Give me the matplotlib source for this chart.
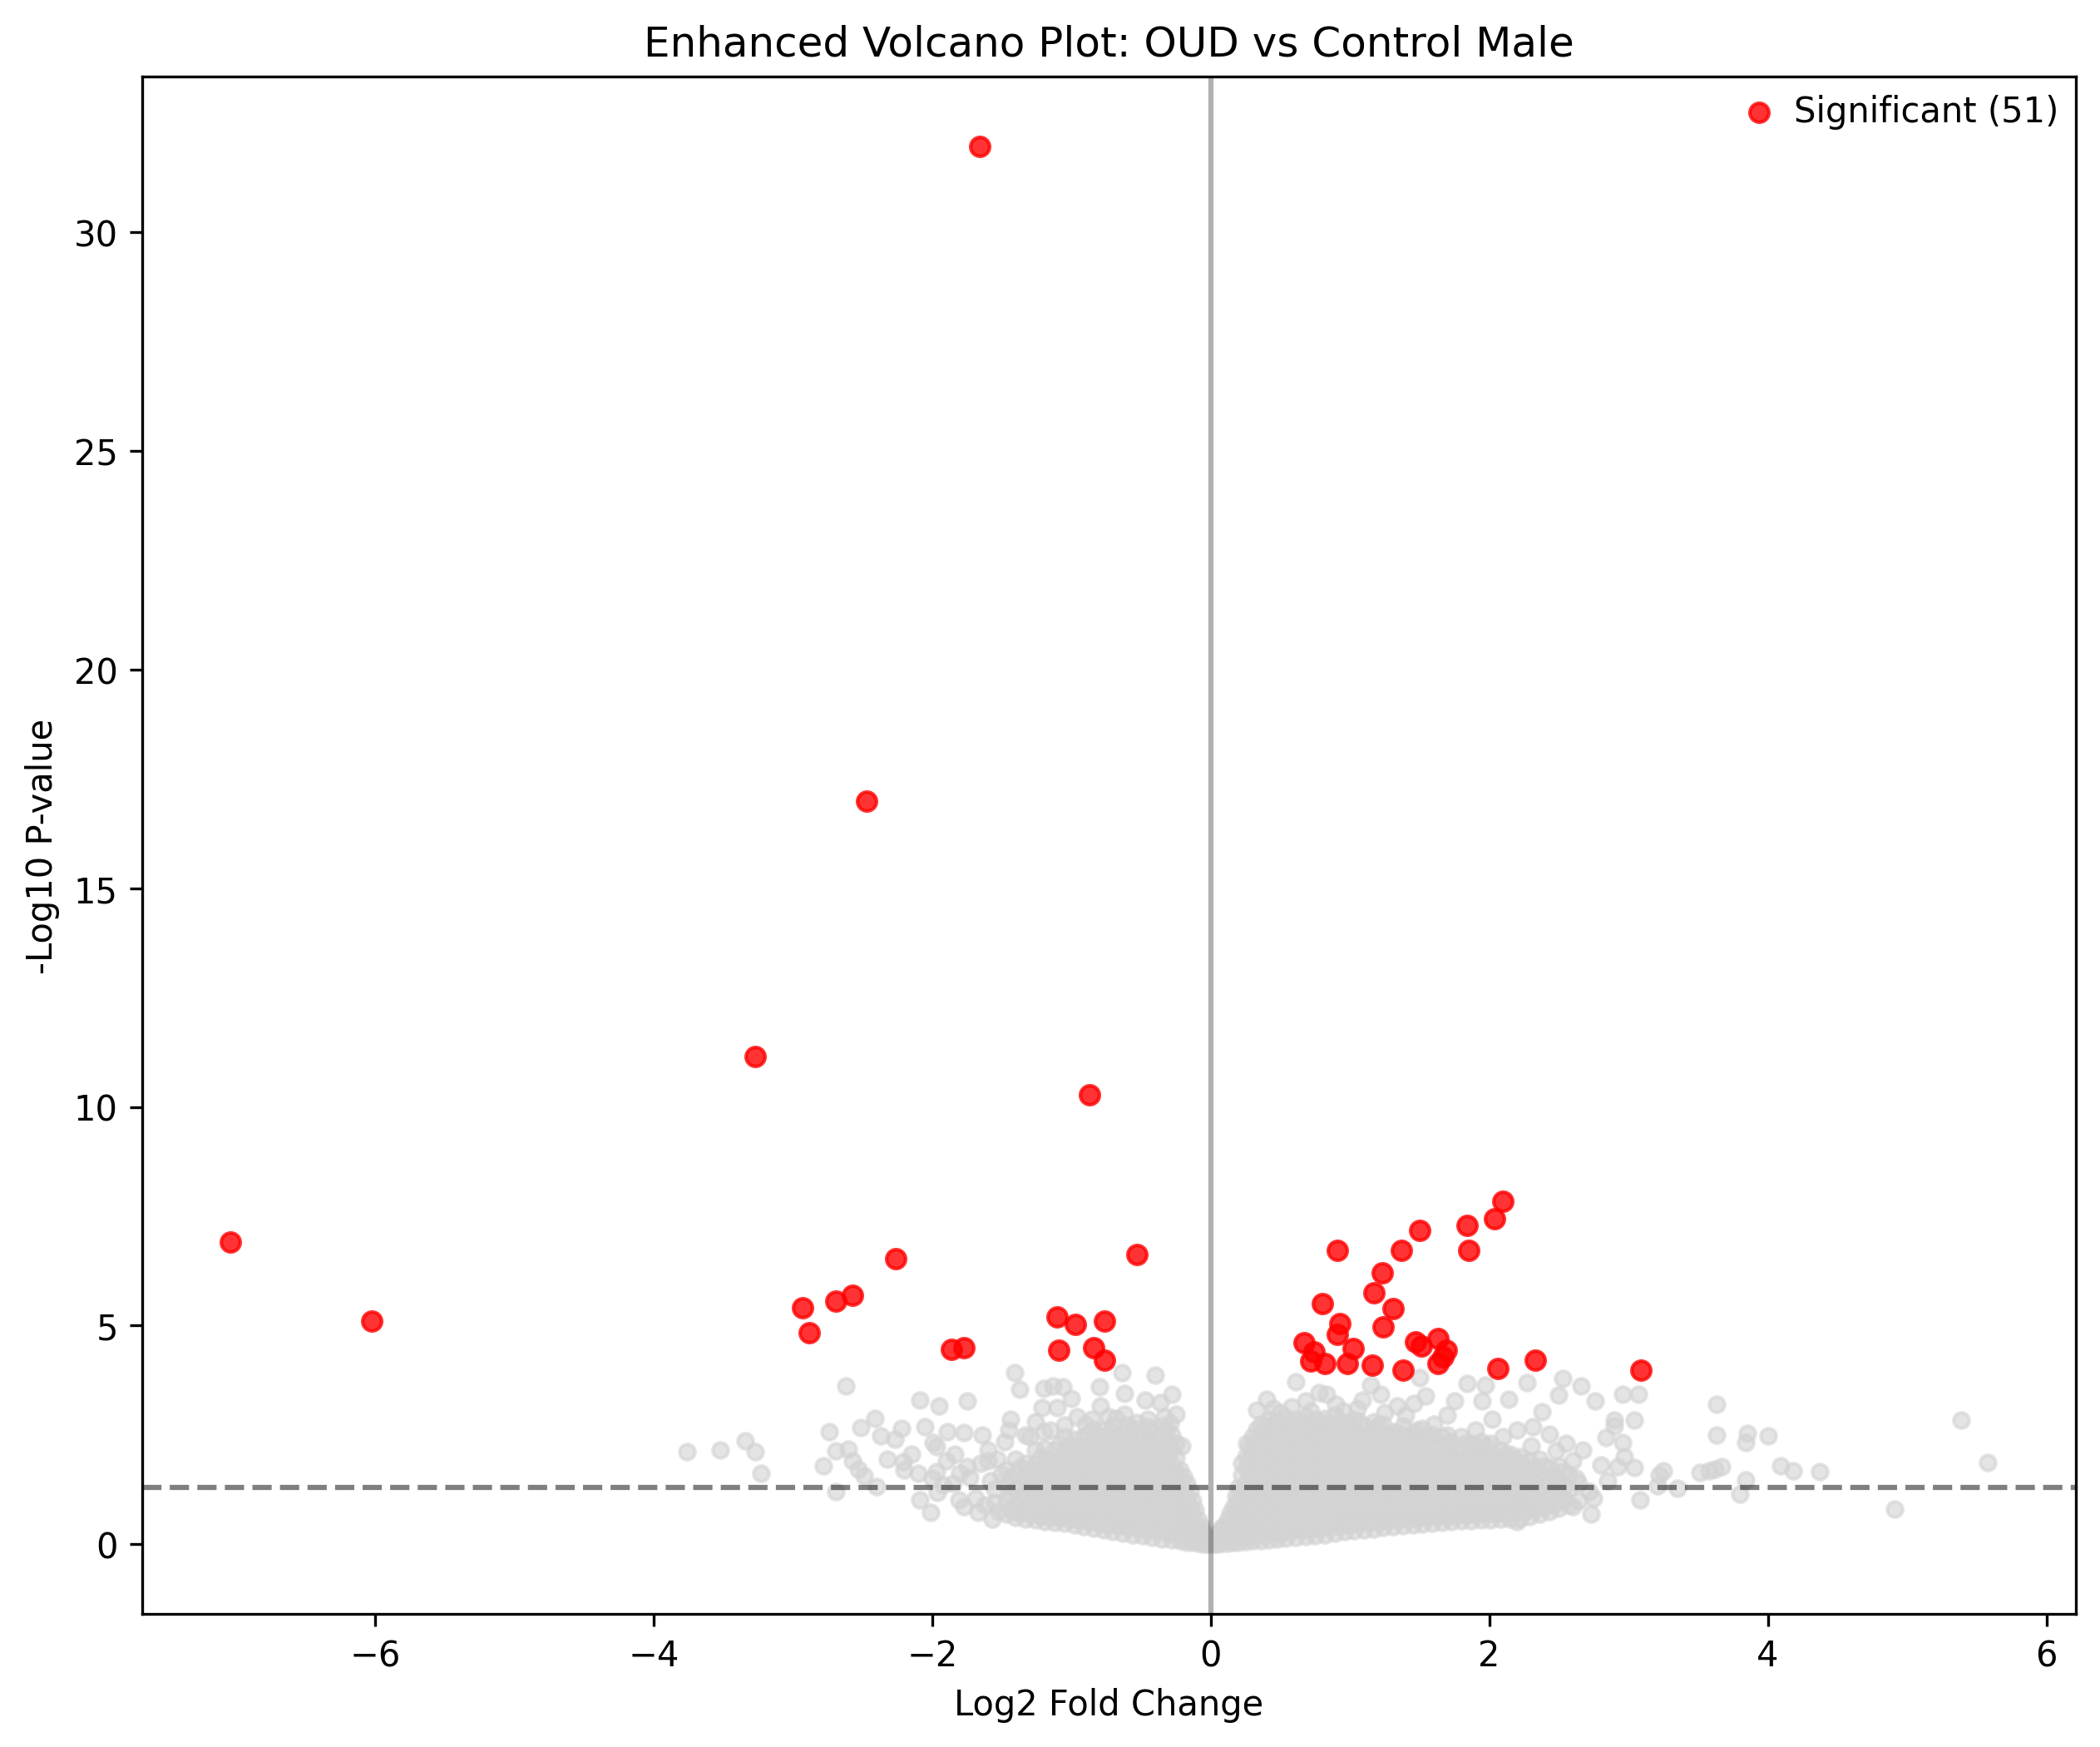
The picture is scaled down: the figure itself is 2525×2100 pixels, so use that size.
import numpy as np
import matplotlib
matplotlib.use('Agg')
import matplotlib.pyplot as plt

# significant genes
red_x = [-1.66, -2.47, -3.27, -0.87, -7.04, -6.02, -2.26, -0.53, -2.93, -2.69,
         -2.57, -2.88, -1.86, -1.77, -1.10, -0.97, -0.76, -1.09, -0.84, -0.76,
         2.10, 2.04, 1.84, 1.50, 1.85, 0.91, 1.37, 1.23, 1.17, 0.80,
         1.31, 1.24, 0.93, 0.91, 0.67, 0.74, 0.72, 0.82, 1.02, 0.98,
         1.16, 1.38, 1.47, 1.51, 1.63, 1.69, 1.67, 1.63, 2.06, 2.33, 3.09]
red_y = [31.96, 17.0, 11.15, 10.28, 6.91, 5.11, 6.53, 6.63, 5.41, 5.56,
         5.70, 4.84, 4.46, 4.49, 5.20, 5.03, 5.11, 4.43, 4.49, 4.21,
         7.85, 7.45, 7.29, 7.18, 6.71, 6.71, 6.72, 6.21, 5.74, 5.51,
         5.38, 4.97, 5.04, 4.80, 4.60, 4.40, 4.19, 4.14, 4.47, 4.13,
         4.10, 3.97, 4.62, 4.54, 4.70, 4.43, 4.28, 4.14, 4.01, 4.21, 3.97]

# scattered non-significant genes, left side
grey_left_x = [-3.76, -3.52, -3.34, -3.27, -3.23, -2.62, -2.74, -2.69, -2.60, -2.78,
               -2.69, -2.57, -2.53, -2.49, -2.40, -2.51, -2.41, -2.37, -2.27, -2.22,
               -2.09, -1.95, -1.75, -2.05, -2.21, -2.20, -2.10, -2.09, -2.01, -1.99,
               -1.97, -1.89, -1.77, -1.64, -1.60, -1.90, -1.97, -1.96, -1.81, -1.67,
               -1.57, -1.41, -1.37, -1.20, -1.13, -1.06, -1.00, -1.21, -1.10, -1.44,
               -1.26, -0.96, -0.80, -0.64, -0.40, -0.62, -0.79, -0.28, -0.47, -0.36,
               -0.25, -0.73, -0.62, -0.53, -0.29, -1.80, -1.75, -1.73, -1.69, -1.65,
               -1.60, -1.55, -1.62, -1.52, -1.58, -1.85, -1.48, -1.53, -1.77, -1.45,
               -1.33, -1.15, -0.90, -1.50, -2.15, -2.32, -1.92, -2.00, -1.84,
               -1.30, -1.20, -1.05, -0.85, -0.68, -0.45, -0.33, -0.21, -1.55, -1.38]
grey_left_y = [2.11, 2.16, 2.37, 2.11, 1.62, 3.61, 2.57, 2.13, 2.17, 1.79,
               1.21, 1.91, 1.72, 1.56, 1.31, 2.67, 2.87, 2.48, 2.40, 2.65,
               3.29, 3.16, 3.28, 2.69, 1.88, 1.69, 1.62, 1.01, 0.72, 2.32,
               2.22, 2.57, 2.56, 2.49, 2.16, 1.91, 1.65, 1.18, 1.02, 0.72,
               0.57, 3.92, 3.54, 3.57, 3.62, 3.60, 3.33, 3.12, 3.12, 2.85,
               2.80, 2.91, 3.60, 3.92, 3.86, 3.44, 3.17, 3.43, 3.30, 3.24,
               2.98, 2.92, 2.98, 2.79, 2.76, 1.62, 1.78, 1.53, 1.05, 1.84,
               1.91, 1.25, 0.90, 0.75, 1.45, 1.40, 2.35, 1.95, 0.85, 2.60,
               2.50, 2.60, 2.75, 1.60, 2.05, 1.95, 1.35, 1.50, 2.05,
               2.45, 2.58, 2.72, 2.86, 2.88, 2.85, 2.92, 2.25, 0.95, 0.70]

# scattered non-significant genes, right side
grey_right_x = [5.39, 5.58, 4.91, 3.63, 3.63, 3.85, 3.84, 4.00, 4.09, 4.18,
                4.37, 3.84, 3.80, 3.67, 3.58, 3.51, 3.62, 3.25, 3.22, 3.35,
                3.21, 3.08, 2.73, 3.04, 2.92, 2.80, 2.97, 2.96, 2.84, 3.04,
                2.90, 2.90, 2.96, 3.07, 2.76, 2.66, 2.53, 2.50, 2.27, 2.14,
                1.97, 1.84, 1.95, 2.38, 2.31, 2.43, 2.48, 2.67, 1.50, 1.15,
                1.22, 1.54, 1.34, 1.75, 0.61, 0.40, 0.33, 0.78, 0.68, 1.09,
                0.83, 1.46, 2.20, 2.62, 2.72, 2.85, 2.55, 0.95, 1.70, 2.02,
                1.25, 0.50, 2.20,
                0.45, 0.58, 0.72, 0.90, 1.05, 1.40, 1.60, 1.90, 2.10, 2.30,
                2.60, 2.75, 2.60, 0.26]
grey_right_y = [2.83, 1.86, 0.81, 3.19, 2.49, 2.53, 2.32, 2.48, 1.79, 1.68,
                1.65, 1.46, 1.14, 1.77, 1.68, 1.64, 1.72, 1.68, 1.58, 1.27,
                1.33, 1.02, 0.68, 1.75, 1.78, 1.81, 2.00, 2.32, 2.43, 2.83,
                2.83, 2.70, 3.42, 3.42, 3.27, 3.62, 3.79, 3.40, 3.69, 3.31,
                3.63, 3.67, 3.27, 3.02, 2.69, 2.51, 2.13, 2.16, 3.81, 3.64,
                3.43, 3.39, 3.17, 3.27, 3.72, 3.31, 3.06, 3.46, 3.27, 3.30,
                3.43, 3.21, 0.51, 1.50, 1.20, 1.45, 2.30, 3.05, 2.95, 2.85,
                3.00, 3.00, 2.60,
                3.10, 3.15, 3.05, 3.20, 3.10, 2.95, 2.75, 2.60, 2.45, 2.25,
                1.90, 1.05, 0.85, 2.30]

# dense core left of zero: column x and the y values in that column
core_left_x = [-0.02, -0.05, -0.09, -0.13, -0.17, -0.22, -0.28, -0.35, -0.42, -0.49,
               -0.56, -0.63, -0.70, -0.77, -0.84, -0.91, -0.98, -1.05, -1.12, -1.19,
               -1.26, -1.33, -1.40, -1.47]
core_left_y = [
    [0.00, 0.15],
    [0.01, 0.25],
    [0.03, 0.32, 0.55],
    [0.04, 0.35, 0.70, 1.00],
    [0.05, 0.38, 0.73, 1.08, 1.40],
    [0.07, 0.40, 0.75, 1.10, 1.45, 1.70],
    [0.09, 0.42, 0.77, 1.12, 1.47, 1.82, 2.17, 2.50],
    [0.12, 0.45, 0.80, 1.14, 1.48, 1.83, 2.18, 2.52, 2.70],
    [0.16, 0.47, 0.82, 1.17, 1.52, 1.86, 2.22, 2.60],
    [0.19, 0.50, 0.84, 1.19, 1.54, 1.90, 2.25, 2.55],
    [0.22, 0.52, 0.87, 1.22, 1.57, 1.92, 2.28, 2.65],
    [0.25, 0.55, 0.90, 1.25, 1.60, 1.95, 2.30, 2.55],
    [0.28, 0.57, 0.92, 1.27, 1.62, 1.98, 2.33, 2.70],
    [0.32, 0.60, 0.95, 1.30, 1.65, 2.00, 2.35, 2.60],
    [0.36, 0.62, 0.97, 1.32, 1.67, 2.03, 2.40, 2.62],
    [0.40, 0.65, 1.00, 1.35, 1.70, 2.05, 2.45],
    [0.45, 0.68, 1.02, 1.37, 1.72, 2.08, 2.40],
    [0.48, 0.70, 1.05, 1.40, 1.75, 2.10, 2.45],
    [0.50, 0.73, 1.08, 1.42, 1.78, 2.15],
    [0.52, 0.76, 1.10, 1.45, 1.80, 2.20],
    [0.55, 0.80, 1.13, 1.48, 1.83, 2.15],
    [0.58, 0.85, 1.18, 1.52, 1.85],
    [0.62, 0.90, 1.25, 1.60, 1.95],
    [0.68, 1.00, 1.35, 1.70],
]
core_left_mid_x = [-0.035, -0.07, -0.11, -0.15, -0.195, -0.25, -0.315, -0.385, -0.455,
                   -0.525, -0.595, -0.665, -0.735, -0.805, -0.875, -0.945, -1.015,
                   -1.085, -1.155, -1.225, -1.295, -1.365, -1.435]
core_left_mid_y = [
    [0.08],
    [0.10, 0.40],
    [0.13, 0.45, 0.78],
    [0.16, 0.50, 0.85, 1.20],
    [0.20, 0.55, 0.90, 1.25, 1.55],
    [0.24, 0.58, 0.92, 1.28, 1.63, 1.98, 2.30],
    [0.27, 0.60, 0.95, 1.30, 1.65, 2.00, 2.35, 2.62],
    [0.30, 0.62, 0.97, 1.32, 1.67, 2.02, 2.38],
    [0.33, 0.65, 1.00, 1.35, 1.70, 2.05, 2.40, 2.68],
    [0.36, 0.68, 1.02, 1.37, 1.72, 2.07, 2.42],
    [0.39, 0.70, 1.05, 1.40, 1.75, 2.10, 2.45, 2.72],
    [0.42, 0.73, 1.08, 1.43, 1.78, 2.12, 2.47],
    [0.45, 0.76, 1.10, 1.45, 1.80, 2.15, 2.50],
    [0.48, 0.78, 1.12, 1.48, 1.82, 2.18, 2.48],
    [0.52, 0.80, 1.15, 1.50, 1.85, 2.20, 2.55],
    [0.55, 0.83, 1.18, 1.52, 1.88, 2.22],
    [0.58, 0.86, 1.20, 1.55, 1.90, 2.25],
    [0.60, 0.90, 1.23, 1.58, 1.92, 2.30],
    [0.62, 0.92, 1.26, 1.60, 1.95],
    [0.65, 0.95, 1.30, 1.65, 1.98],
    [0.68, 1.00, 1.33, 1.68],
    [0.72, 1.05, 1.40, 1.75],
    [0.80, 1.15, 1.50],
]

# dense core right of zero
core_right_x = [0.02, 0.05, 0.08, 0.12, 0.16, 0.20, 0.25, 0.30, 0.36, 0.42,
                0.48, 0.54, 0.61, 0.68, 0.75, 0.82, 0.89, 0.96, 1.03, 1.10,
                1.17, 1.24, 1.31, 1.38, 1.45, 1.52, 1.59, 1.66, 1.73, 1.80,
                1.87, 1.94, 2.01, 2.08, 2.15, 2.22, 2.29, 2.36, 2.43, 2.50,
                2.57, 2.64]
core_right_y = [
    [0.00],
    [0.01, 0.15],
    [0.02, 0.22, 0.38],
    [0.03, 0.28, 0.55],
    [0.04, 0.32, 0.62, 0.85],
    [0.05, 0.36, 0.70, 1.05, 1.30],
    [0.06, 0.36, 0.70, 1.05, 1.40, 1.75, 2.00],
    [0.07, 0.40, 0.75, 1.10, 1.45, 1.80, 2.15, 2.45],
    [0.08, 0.38, 0.72, 1.06, 1.42, 1.77, 2.12, 2.45, 2.75],
    [0.10, 0.43, 0.78, 1.13, 1.48, 1.83, 2.18, 2.52, 2.85],
    [0.11, 0.40, 0.75, 1.10, 1.45, 1.80, 2.15, 2.50, 2.82],
    [0.13, 0.46, 0.82, 1.18, 1.52, 1.88, 2.22, 2.55, 2.90],
    [0.15, 0.42, 0.77, 1.12, 1.48, 1.83, 2.18, 2.52, 2.85],
    [0.17, 0.48, 0.83, 1.20, 1.55, 1.90, 2.25, 2.60, 2.92],
    [0.19, 0.45, 0.80, 1.15, 1.50, 1.85, 2.20, 2.55, 2.85],
    [0.22, 0.50, 0.86, 1.22, 1.57, 1.92, 2.28, 2.62, 2.88],
    [0.25, 0.52, 0.82, 1.17, 1.52, 1.87, 2.23, 2.58, 2.95],
    [0.28, 0.55, 0.88, 1.24, 1.60, 1.95, 2.30, 2.65],
    [0.30, 0.55, 0.84, 1.19, 1.54, 1.90, 2.25, 2.60, 2.85],
    [0.33, 0.58, 0.90, 1.26, 1.62, 1.97, 2.32, 2.70],
    [0.35, 0.57, 0.86, 1.21, 1.56, 1.92, 2.27, 2.62, 2.80],
    [0.38, 0.62, 0.92, 1.28, 1.63, 1.98, 2.35, 2.75],
    [0.40, 0.62, 0.88, 1.23, 1.58, 1.94, 2.30, 2.58],
    [0.42, 0.65, 0.95, 1.30, 1.65, 2.00, 2.38, 2.70],
    [0.44, 0.63, 0.90, 1.25, 1.60, 1.96, 2.32, 2.55],
    [0.46, 0.68, 0.97, 1.32, 1.67, 2.02, 2.40, 2.65],
    [0.48, 0.66, 0.93, 1.27, 1.62, 1.98, 2.30, 2.50],
    [0.50, 0.70, 1.00, 1.34, 1.70, 2.05, 2.45],
    [0.52, 0.68, 0.95, 1.30, 1.65, 2.00, 2.35],
    [0.53, 0.72, 1.02, 1.37, 1.72, 2.08, 2.45],
    [0.54, 0.70, 0.97, 1.32, 1.68, 2.02, 2.30],
    [0.55, 0.74, 1.05, 1.40, 1.75, 2.10, 2.35],
    [0.56, 0.72, 1.00, 1.35, 1.70, 2.05, 2.30],
    [0.57, 0.76, 1.08, 1.43, 1.78, 2.15],
    [0.58, 0.80, 1.10, 1.45, 1.80, 2.05],
    [0.60, 0.85, 1.15, 1.50, 1.85, 2.00],
    [0.63, 0.90, 1.20, 1.55, 1.90],
    [0.68, 0.95, 1.30, 1.65, 1.95],
    [0.75, 1.05, 1.40, 1.75],
    [0.82, 1.15, 1.50, 1.80],
    [0.90, 1.25, 1.60],
    [1.00, 1.40],
]
core_right_mid_x = [0.035, 0.065, 0.10, 0.14, 0.18, 0.225, 0.275, 0.33, 0.39, 0.45,
                    0.51, 0.575, 0.645, 0.715, 0.785, 0.855, 0.925, 0.995, 1.065,
                    1.135, 1.205, 1.275, 1.345, 1.415, 1.485, 1.555, 1.625, 1.695,
                    1.765, 1.835, 1.905, 1.975, 2.045, 2.115, 2.185, 2.255, 2.325,
                    2.395, 2.465, 2.535]
core_right_mid_y = [
    [0.05],
    [0.08, 0.30],
    [0.10, 0.40],
    [0.12, 0.45, 0.70],
    [0.15, 0.50, 0.85, 1.10],
    [0.18, 0.52, 0.88, 1.23, 1.58, 1.85],
    [0.20, 0.55, 0.90, 1.25, 1.60, 1.95, 2.25],
    [0.22, 0.58, 0.93, 1.28, 1.63, 1.98, 2.33, 2.62],
    [0.24, 0.60, 0.95, 1.30, 1.65, 2.00, 2.35, 2.70],
    [0.26, 0.62, 0.97, 1.32, 1.67, 2.02, 2.37, 2.72],
    [0.28, 0.63, 0.98, 1.33, 1.68, 2.03, 2.38, 2.75],
    [0.30, 0.65, 1.00, 1.35, 1.70, 2.05, 2.40, 2.72],
    [0.32, 0.66, 1.01, 1.36, 1.71, 2.06, 2.41, 2.78],
    [0.34, 0.68, 1.03, 1.38, 1.73, 2.08, 2.43, 2.72],
    [0.36, 0.70, 1.05, 1.40, 1.75, 2.10, 2.45, 2.80],
    [0.39, 0.71, 1.06, 1.41, 1.76, 2.11, 2.46, 2.75],
    [0.42, 0.73, 1.08, 1.43, 1.78, 2.13, 2.48, 2.82],
    [0.45, 0.74, 1.09, 1.44, 1.79, 2.14, 2.49, 2.75],
    [0.47, 0.76, 1.11, 1.46, 1.81, 2.16, 2.51, 2.80],
    [0.50, 0.77, 1.12, 1.47, 1.82, 2.17, 2.52],
    [0.52, 0.79, 1.14, 1.49, 1.84, 2.19, 2.54, 2.75],
    [0.54, 0.80, 1.15, 1.50, 1.85, 2.20, 2.50],
    [0.56, 0.82, 1.17, 1.52, 1.87, 2.22, 2.55],
    [0.58, 0.83, 1.18, 1.53, 1.88, 2.23, 2.45],
    [0.60, 0.85, 1.20, 1.55, 1.90, 2.25, 2.60],
    [0.61, 0.86, 1.21, 1.56, 1.91, 2.26, 2.45],
    [0.63, 0.88, 1.23, 1.58, 1.93, 2.28],
    [0.64, 0.89, 1.24, 1.59, 1.94, 2.29, 2.50],
    [0.65, 0.90, 1.25, 1.60, 1.95, 2.20],
    [0.66, 0.92, 1.27, 1.62, 1.97, 2.32],
    [0.67, 0.93, 1.28, 1.63, 1.98, 2.22],
    [0.68, 0.95, 1.30, 1.65, 2.00, 2.25],
    [0.69, 0.96, 1.31, 1.66, 2.00],
    [0.70, 0.98, 1.33, 1.68, 2.05],
    [0.72, 1.00, 1.35, 1.70, 1.95],
    [0.75, 1.03, 1.38, 1.72],
    [0.78, 1.06, 1.40, 1.75],
    [0.84, 1.12, 1.45, 1.80],
    [0.92, 1.20, 1.55],
    [1.02, 1.30, 1.65],
]

title = 'Enhanced Volcano Plot: OUD vs Control Male'
p_cut = 0.05

# flatten the core columns into points
cx, cy = [], []
for xs, ys_list in ((core_left_x, core_left_y), (core_left_mid_x, core_left_mid_y),
                    (core_right_x, core_right_y), (core_right_mid_x, core_right_mid_y)):
    for x, ys in zip(xs, ys_list):
        for y in ys:
            cx.append(x)
            cy.append(y)

gx = np.array(cx + grey_left_x + grey_right_x)
gy = np.array(cy + grey_left_y + grey_right_y)

plt.figure(figsize=(10, 8))
plt.scatter(gx, gy, color='lightgrey', alpha=0.6, s=20)
plt.scatter(red_x, red_y, color='red', alpha=0.8, s=30,
            label=f'Significant ({len(red_x)})')
plt.axhline(-np.log10(p_cut), color='black', linestyle='--', alpha=0.5)
plt.axvline(0, color='black', alpha=0.3)
plt.xlabel('Log2 Fold Change')
plt.ylabel('-Log10 P-value')
plt.title(title)
plt.legend(loc='upper right', frameon=False, borderaxespad=0.1,
           handlelength=1.0, handletextpad=0.5)
plt.savefig('out.png', dpi=300, bbox_inches='tight')
plt.close()
